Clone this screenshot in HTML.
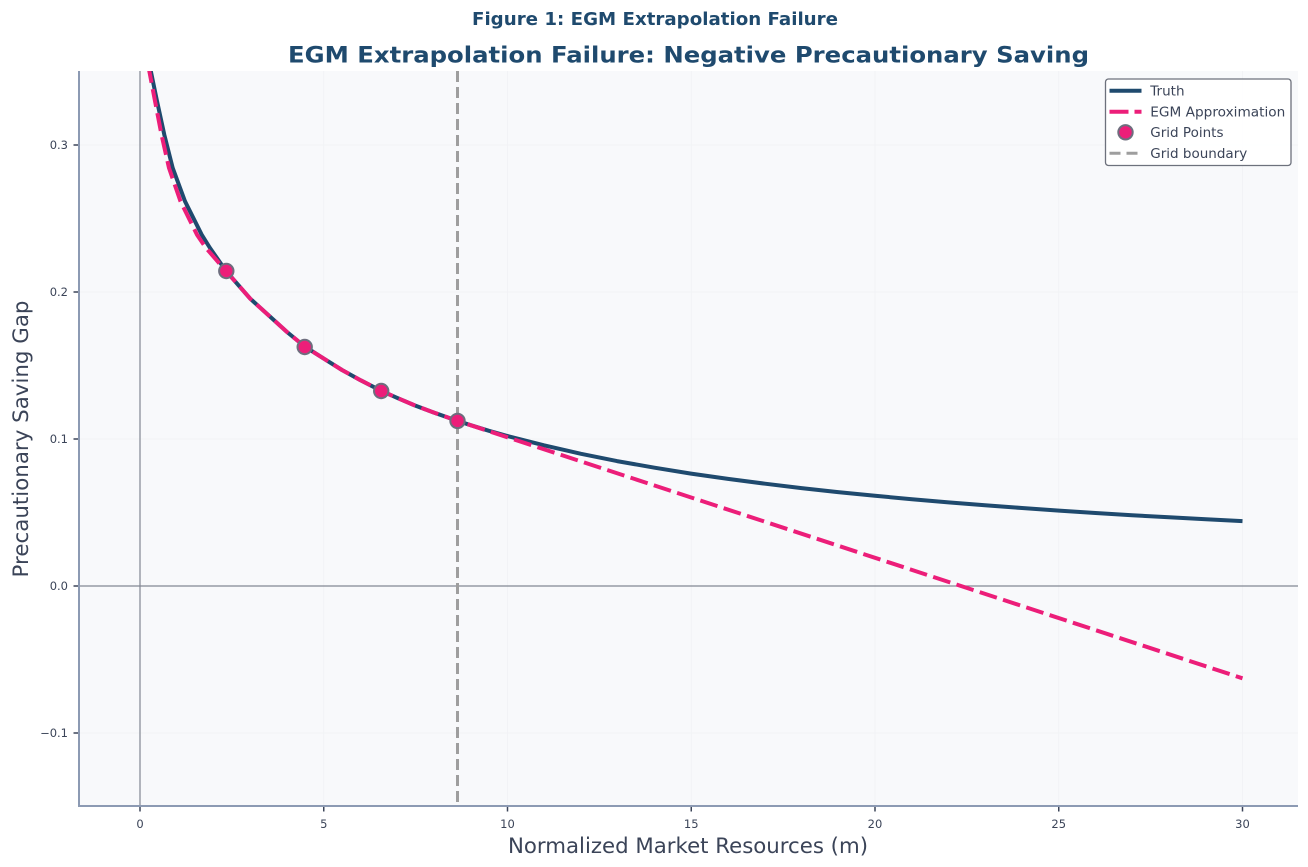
<!DOCTYPE html>
<html>
<head>
<meta charset="utf-8">
<style>
  html, body { margin: 0; padding: 0; background: #ffffff; }
  svg { display: block; }
  text { font-family: "DejaVu Sans", "Liberation Sans", sans-serif; }
</style>
</head>
<body>
<svg width="1308" height="867" viewBox="0 0 1308 867" xmlns="http://www.w3.org/2000/svg">
  <defs>
    <clipPath id="plotclip">
      <rect x="79" y="71" width="1219" height="735"/>
    </clipPath>
  </defs>

  <!-- Titles -->
  <text x="655" y="25" text-anchor="middle" font-size="17.5" font-weight="bold" fill="#1f4a6e" textLength="366" lengthAdjust="spacingAndGlyphs">Figure 1: EGM Extrapolation Failure</text>
  <text x="688.5" y="62.5" text-anchor="middle" font-size="22.5" font-weight="bold" fill="#1f4a6e" textLength="801" lengthAdjust="spacingAndGlyphs">EGM Extrapolation Failure: Negative Precautionary Saving</text>

  <!-- Plot background -->
  <rect x="79" y="71" width="1219" height="735" fill="#f8f9fb"/>

  <!-- Grid lines -->
  <g stroke="#f0f2f5" stroke-width="0.8">
    <line x1="79" y1="145" x2="1298" y2="145"/>
    <line x1="79" y1="292" x2="1298" y2="292"/>
    <line x1="79" y1="439" x2="1298" y2="439"/>
    <line x1="79" y1="733" x2="1298" y2="733"/>
    <line x1="323.75" y1="71" x2="323.75" y2="806"/>
    <line x1="507.5" y1="71" x2="507.5" y2="806"/>
    <line x1="691.25" y1="71" x2="691.25" y2="806"/>
    <line x1="875" y1="71" x2="875" y2="806"/>
    <line x1="1058.75" y1="71" x2="1058.75" y2="806"/>
    <line x1="1242.5" y1="71" x2="1242.5" y2="806"/>
  </g>

  <!-- Zero lines -->
  <line x1="79" y1="586" x2="1298" y2="586" stroke="#828792" stroke-width="1.2"/>
  <line x1="140" y1="71" x2="140" y2="806" stroke="#828792" stroke-width="1.2"/>

  <!-- Grid boundary -->
  <line x1="457.5" y1="71" x2="457.5" y2="806" stroke="#9e9e9e" stroke-width="3" stroke-dasharray="11 5"/>

  <g clip-path="url(#plotclip)">
    <!-- Truth -->
    <polyline fill="none" stroke="#1f4a6e" stroke-width="4" stroke-linejoin="round" stroke-linecap="butt"
      points="149.8,65 150.8,71 157,101 164.3,134.7 172.7,168 185,201.3 201.7,234.7 210,248 226,271 250.25,298.7 287,332 304.7,346.5 323.75,358.6 342,370 360.5,380.2 381.2,390.8 397.25,397.9 415,405.5 434,412.6 457.5,420.9 470.75,425.2 489,430.8 507.5,436.0 544,445.3 581,453.8 617,461.1 654.5,467.7 691,473.6 728,478.9 765,483.7 801.5,488.1 838,492.1 875,495.8 912,499.2 948.5,502.4 985,505.3 1022,508.0 1059,510.6 1095.5,513.0 1132,515.2 1169,517.3 1206,519.3 1242.5,521.1"/>
    <!-- EGM Approximation -->
    <polyline fill="none" stroke="#ec1e79" stroke-width="4" stroke-dasharray="18 6.5" stroke-linejoin="round" stroke-linecap="butt"
      points="148.3,65 149.3,71 155,101 161.5,134.7 169,168 180.5,201.3 197,234.7 206,248 226,271 250.25,298.7 287,332 304.7,346.5 323.75,358.6 342,370 360.5,380.2 381.2,390.8 397.25,397.9 415,405.5 434,412.6 457.5,420.9 1242.5,678.3"/>
  </g>

  <!-- Grid Points -->
  <g fill="#ec1e79" stroke="#6e6e7e" stroke-width="2">
    <circle cx="226.3" cy="271" r="7.2"/>
    <circle cx="304.7" cy="347" r="7.2"/>
    <circle cx="381.2" cy="391" r="7.2"/>
    <circle cx="457.5" cy="420.9" r="7.2"/>
  </g>

  <!-- Spines -->
  <line x1="79" y1="71" x2="79" y2="807" stroke="#8c9ab3" stroke-width="2"/>
  <line x1="78" y1="806" x2="1298" y2="806" stroke="#8c9ab3" stroke-width="2"/>

  <!-- Ticks -->
  <g stroke="#3b4458" stroke-width="1.5">
    <line x1="73.5" y1="145" x2="78" y2="145"/>
    <line x1="73.5" y1="292" x2="78" y2="292"/>
    <line x1="73.5" y1="439" x2="78" y2="439"/>
    <line x1="73.5" y1="586" x2="78" y2="586"/>
    <line x1="73.5" y1="733" x2="78" y2="733"/>
    <line x1="140" y1="807" x2="140" y2="811.5"/>
    <line x1="323.75" y1="807" x2="323.75" y2="811.5"/>
    <line x1="507.5" y1="807" x2="507.5" y2="811.5"/>
    <line x1="691.25" y1="807" x2="691.25" y2="811.5"/>
    <line x1="875" y1="807" x2="875" y2="811.5"/>
    <line x1="1058.75" y1="807" x2="1058.75" y2="811.5"/>
    <line x1="1242.5" y1="807" x2="1242.5" y2="811.5"/>
  </g>

  <!-- Tick labels -->
  <g font-size="11.5" fill="#3b4458" text-anchor="end">
    <text x="68" y="149.2">0.3</text>
    <text x="68" y="296.2">0.2</text>
    <text x="68" y="443.2">0.1</text>
    <text x="68" y="590.2">0.0</text>
    <text x="68" y="737.2">−0.1</text>
  </g>
  <g font-size="11.5" fill="#3b4458" text-anchor="middle">
    <text x="140" y="828">0</text>
    <text x="323.75" y="828">5</text>
    <text x="507.5" y="828">10</text>
    <text x="691.25" y="828">15</text>
    <text x="875" y="828">20</text>
    <text x="1058.75" y="828">25</text>
    <text x="1242.5" y="828">30</text>
  </g>

  <!-- Axis labels -->
  <text x="688" y="853" text-anchor="middle" font-size="21" fill="#3b4458" textLength="360" lengthAdjust="spacingAndGlyphs">Normalized Market Resources (m)</text>
  <text transform="translate(28,439) rotate(-90)" text-anchor="middle" font-size="21" fill="#3b4458" textLength="277" lengthAdjust="spacingAndGlyphs">Precautionary Saving Gap</text>

  <!-- Legend -->
  <rect x="1105.5" y="79" width="185.5" height="86.5" rx="3" ry="3" fill="#ffffff" fill-opacity="0.92" stroke="#6d717c" stroke-width="1.3"/>
  <line x1="1109.5" y1="90.7" x2="1141.5" y2="90.7" stroke="#1f4a6e" stroke-width="4"/>
  <line x1="1109.5" y1="111.7" x2="1141.5" y2="111.7" stroke="#ec1e79" stroke-width="4" stroke-dasharray="19 6"/>
  <circle cx="1125.5" cy="132.3" r="7.2" fill="#ec1e79" stroke="#6e6e7e" stroke-width="2"/>
  <line x1="1109.5" y1="153.3" x2="1141.5" y2="153.3" stroke="#9e9e9e" stroke-width="3" stroke-dasharray="11 6"/>
  <g font-size="13.5" fill="#3b4458">
    <text x="1150.3" y="95.5">Truth</text>
    <text x="1150.3" y="116.5" textLength="135" lengthAdjust="spacingAndGlyphs">EGM Approximation</text>
    <text x="1150.3" y="137.1">Grid Points</text>
    <text x="1150.3" y="158.1">Grid boundary</text>
  </g>
</svg>
</body>
</html>
